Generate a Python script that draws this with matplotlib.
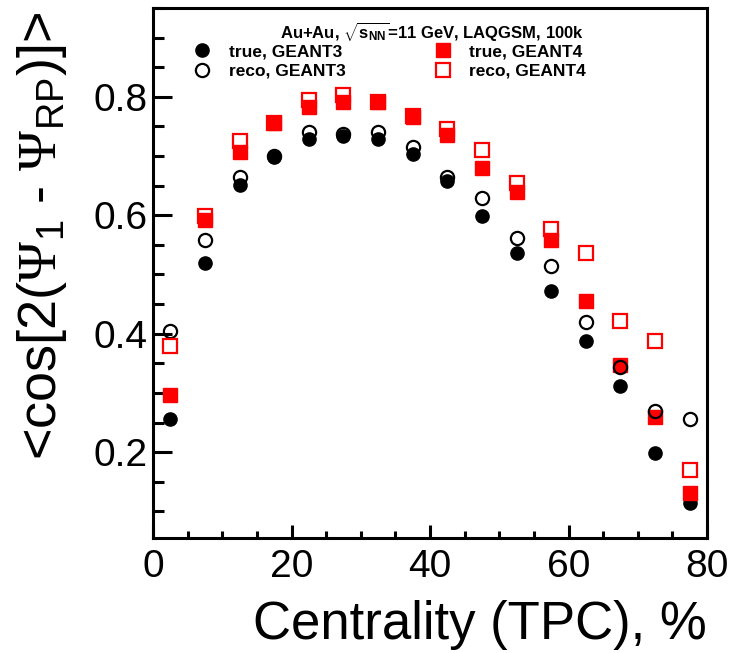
import numpy as np
import matplotlib
matplotlib.use("Agg")
import matplotlib.pyplot as plt
from matplotlib.ticker import MultipleLocator, FormatStrFormatter

plt.rcParams['font.family'] = ['Liberation Sans', 'DejaVu Sans']
plt.rcParams['mathtext.fontset'] = 'custom'
plt.rcParams['mathtext.rm'] = 'Liberation Sans'
plt.rcParams['mathtext.it'] = 'Liberation Sans:italic'
plt.rcParams['mathtext.bf'] = 'Liberation Sans:bold'
plt.rcParams['mathtext.sf'] = 'Liberation Serif'

# centrality bins (TPC), %
centrality = [2.5, 7.5, 12.5, 17.5, 22.5, 27.5, 32.5, 37.5,
              42.5, 47.5, 52.5, 57.5, 62.5, 67.5, 72.5, 77.5]

true_g3 = [0.256, 0.520, 0.651, 0.699, 0.728, 0.734, 0.728, 0.703,
           0.658, 0.599, 0.537, 0.472, 0.388, 0.311, 0.198, 0.114]
reco_g3 = [0.405, 0.559, 0.665, 0.700, 0.741, 0.738, 0.741, 0.716,
           0.664, 0.629, 0.561, 0.514, 0.420, 0.343, 0.269, 0.256]
true_g4 = [0.297, 0.592, 0.707, 0.755, 0.783, 0.792, 0.792, 0.766,
           0.735, 0.679, 0.640, 0.558, 0.456, 0.347, 0.260, 0.131]
reco_g4 = [0.379, 0.599, 0.726, 0.756, 0.794, 0.803, 0.792, 0.768,
           0.745, 0.711, 0.654, 0.576, 0.537, 0.422, 0.387, 0.170]

fig = plt.figure(figsize=(7.33, 6.53), dpi=100)
ax = fig.add_axes([153/733, 1 - 538/653, 554/733, 530/653])

ms = 9.5
ax.plot(centrality, true_g3, 'o', color='black', ms=ms, zorder=3, label='true, GEANT3')
ax.plot(centrality, reco_g3, 'o', mfc='none', mec='black', mew=1.6, ms=ms, zorder=5,
        label='reco, GEANT3')
ax.plot(centrality, true_g4, 's', color='red', ms=ms, zorder=4, label='true, GEANT4')
ax.plot(centrality, reco_g4, 's', mfc='none', mec='red', mew=1.6, ms=ms, zorder=6,
        label='reco, GEANT4')

ax.set_xlim(0, 80)
ax.set_ylim(0.055, 0.95)
ax.xaxis.set_major_locator(MultipleLocator(20))
ax.xaxis.set_minor_locator(MultipleLocator(5))
ax.yaxis.set_major_locator(MultipleLocator(0.2))
ax.yaxis.set_minor_locator(MultipleLocator(0.05))
ax.yaxis.set_major_formatter(FormatStrFormatter('%.1f'))

for s in ax.spines.values():
    s.set_linewidth(2.2)
ax.tick_params(axis='both', which='both', direction='in', width=2.2,
               top=False, right=False, labelsize=28)
ax.tick_params(axis='y', which='major', length=14, pad=4)
ax.tick_params(axis='y', which='minor', length=8)
ax.tick_params(axis='x', which='major', length=9.5, pad=8)
ax.tick_params(axis='x', which='minor', length=5)

fig.text(707/733, 1 - 639/653, 'Centrality (TPC), %', fontsize=38,
         ha='right', va='baseline')
fig.text(42/733, 1 - 12/653,
         r'<cos[2($\mathsf{\Psi}_{1}$ - $\mathsf{\Psi}_{\mathrm{RP}}$)]>',
         fontsize=39, rotation=90, ha='center', va='top')

fig.text(432/733, 1 - 32/653,
         r'Au+Au, $\sqrt{\mathbf{s}_{\mathbf{NN}}}$=11 GeV, LAQGSM, 100k',
         fontsize=12, fontweight='bold', ha='center', va='center')

h, l = ax.get_legend_handles_labels()
leg = fig.legend(h, l, ncol=2,
                 loc='upper left', bbox_to_anchor=(193/733, 1 - 44/653),
                 frameon=False, borderpad=0, borderaxespad=0,
                 handlelength=1.0, handletextpad=1.05, columnspacing=5.1,
                 labelspacing=0.25, prop={'weight': 'bold', 'size': 12.5})

fig.savefig('out.png', dpi=100)
